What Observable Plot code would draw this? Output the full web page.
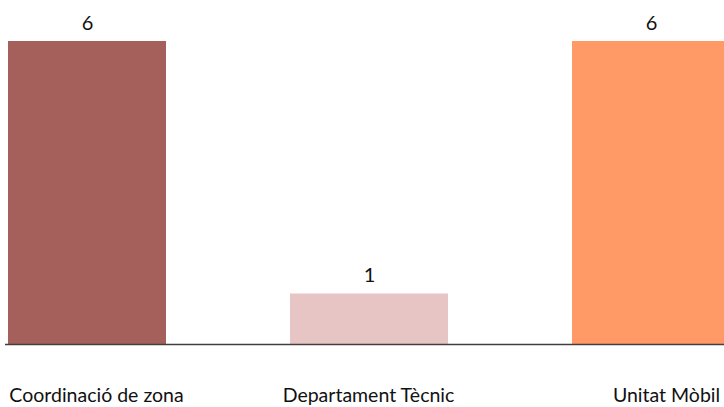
<!DOCTYPE html>
<html>
<head>
<meta charset="utf-8">
<script src="https://cdn.jsdelivr.net/npm/d3@7"></script>
<script src="https://cdn.jsdelivr.net/npm/@observablehq/plot@0.6"></script>
<style>
  html, body { margin: 0; padding: 0; background: #fff; overflow: hidden; }
  #chart svg { display: block; }
</style>
</head>
<body>
<div id="chart"></div>
<script>
const categories = ["Coordinació de zona", "Departament Tècnic", "Unitat Mòbil"];
const values = [6, 1, 6];
const colors = ["#A6605C", "#E8C5C5", "#FF9966"];

const data = categories.map((c, i) => ({category: c, value: values[i]}));

const labelShift = [9, -1, 15];

const chart = Plot.plot({
  width: 724,
  height: 407,
  marginLeft: 5,
  marginRight: 0,
  marginTop: 0,
  marginBottom: 63,
  style: {fontFamily: "Lato, 'Open Sans', sans-serif", fontSize: "16px", color: "#222", overflow: "hidden"},
  x: {domain: categories, range: [-54, 792], paddingInner: 0.44, paddingOuter: 0.22, align: 0.5, label: null, axis: null},
  y: {domain: [0, 6], range: [344, 41], axis: null},
  color: {domain: categories, range: colors},
  marks: [
    Plot.barY(data, {x: "category", y: "value", fill: "category"}),
    Plot.text(data, {x: "category", y: "value", text: d => String(d.value), lineAnchor: "bottom", dy: -12, fontSize: 20, fill: "#111"}),
    Plot.ruleY([0], {stroke: "#404040", strokeWidth: 1.5}),
    ...categories.map((c, i) => Plot.text([c], {x: d => d, y: 0, text: d => d, lineAnchor: "middle", dy: 51, dx: labelShift[i], fontSize: 19.5, fill: "#111"}))
  ]
});
document.getElementById("chart").appendChild(chart);
</script>
</body>
</html>
